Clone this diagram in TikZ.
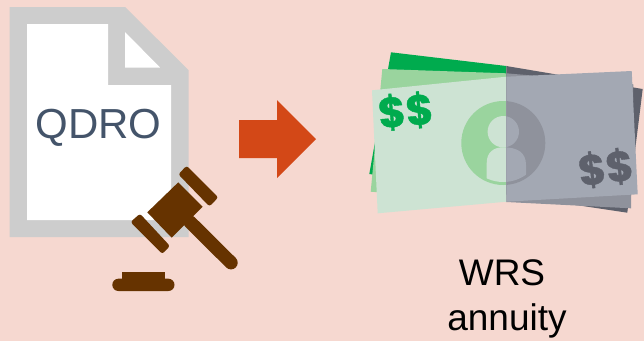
\documentclass[tikz,border=0pt]{standalone}
\usepackage{fontspec}
\setmainfont{Liberation Sans}
\newfontfamily\dollarfont[FakeBold=1]{Poppins}
\definecolor{bgc}{HTML}{F6D8D0}
\definecolor{docgray}{HTML}{CDCDCD}
\definecolor{slatetext}{HTML}{44546A}
\definecolor{gavel}{HTML}{663300}
\definecolor{arrowc}{HTML}{D34817}
\definecolor{gA}{HTML}{00AB4E}
\definecolor{gB}{HTML}{9AD49E}
\definecolor{gC}{HTML}{CDE3D3}
\definecolor{kA}{HTML}{5E616C}
\definecolor{kB}{HTML}{8F929C}
\definecolor{kC}{HTML}{A3A8B3}
\tikzset{
  gavelpart/.style={fill=gavel,draw=none},
  bigtext/.style={text=black,font=\fontsize{37}{45}\selectfont,align=center,inner sep=0pt},
  dollars/.style={font=\dollarfont\bfseries\fontsize{42}{42}\selectfont,inner sep=0pt}
}
\newcommand{\billset}[4]{%
  \fill[#1] (391,52.3) -- (506.3,66) -- (642.7,89) -- (627.3,212.7) -- (369.3,174) -- cycle;
  \fill[#2] (382.3,69) -- (506.3,73.3) -- (633.3,84.3) -- (631,208.3) -- (506.3,202) -- (370.7,191.7) -- cycle;
  \fill[#3] (372,90.3) -- (506.3,76.7) -- (631.7,71) -- (637.7,194.3) -- (506.3,201.7) -- (377.7,213.3) -- cycle;
  \fill[#2] (503.3,143) circle (42);
  \fill[#3] (503.3,131.7) circle (15.7);
  \begin{scope}
    \clip (503.3,143) circle (39);
    \fill[#3] (486.7,190) -- (486.7,163) .. controls (486.7,152) and (494,147.3) .. (503,147.3)
      .. controls (517,147.3) and (526,152) .. (526,165) -- (526,190) -- cycle;
  \end{scope}
}
\begin{document}
\begin{tikzpicture}[x=1pt,y=-1pt]
\useasboundingbox (0,0) rectangle (644,341);
\fill[bgc] (0,0) rectangle (644,341);
% document
\fill[docgray] (9.5,7) -- (125,7) -- (188.5,70) -- (188.5,237) -- (9.5,237) -- cycle;
\fill[white] (27,24) -- (108,24) -- (108,85) -- (171,85) -- (171,220) -- (27,220) -- cycle;
\fill[white] (125,32) -- (160,67.5) -- (125,67.5) -- cycle;
\node[text=slatetext,font=\fontsize{42}{46}\selectfont,inner sep=0pt] (qdro) at (98.5,128) {QDRO};
% gavel
\draw[gavel,line width=13.4pt,line cap=round] (190,222) -- (231,262.7);
\fill[gavelpart] (178.3,182.3) -- (202.7,206.7) -- (171.7,237.7) -- (147.3,212.3) -- cycle;
\fill[gavelpart,rounded corners=2.5pt] (186.7,165.7) -- (178.3,174.3) -- (209.5,206.5) -- (218.3,197.3) -- cycle;
\fill[gavelpart,rounded corners=2.5pt] (140,213.7) -- (130.5,222) -- (162.3,254) -- (170,246) -- cycle;
\fill[gavelpart] (121.7,272.3) rectangle (165.3,280);
\fill[gavelpart,rounded corners=6.1pt] (112.3,278.7) rectangle (174.5,291);
% arrow
\fill[arrowc] (239,120) -- (277,120) -- (277,100) -- (316,139) -- (277,178) -- (277,158) -- (239,158) -- cycle;
% money: left and right halves
\begin{scope}
  \clip (350,30) rectangle (506.3,230);
  \billset{gA}{gB}{gC}{gA}
\end{scope}
\begin{scope}
  \clip (506.3,30) rectangle (644,230);
  \billset{kA}{kB}{kC}{kA}
\end{scope}
\node[dollars,text=gA,rotate=5] (dollarsleft) at (405.7,111) {\$\$};
\node[dollars,text=kA,rotate=7] (dollarsright) at (605.8,168) {\$\$};
\node[bigtext] (wrs) at (507,298.5) {WRS\kern10pt\\annuity};
\end{tikzpicture}
\end{document}
